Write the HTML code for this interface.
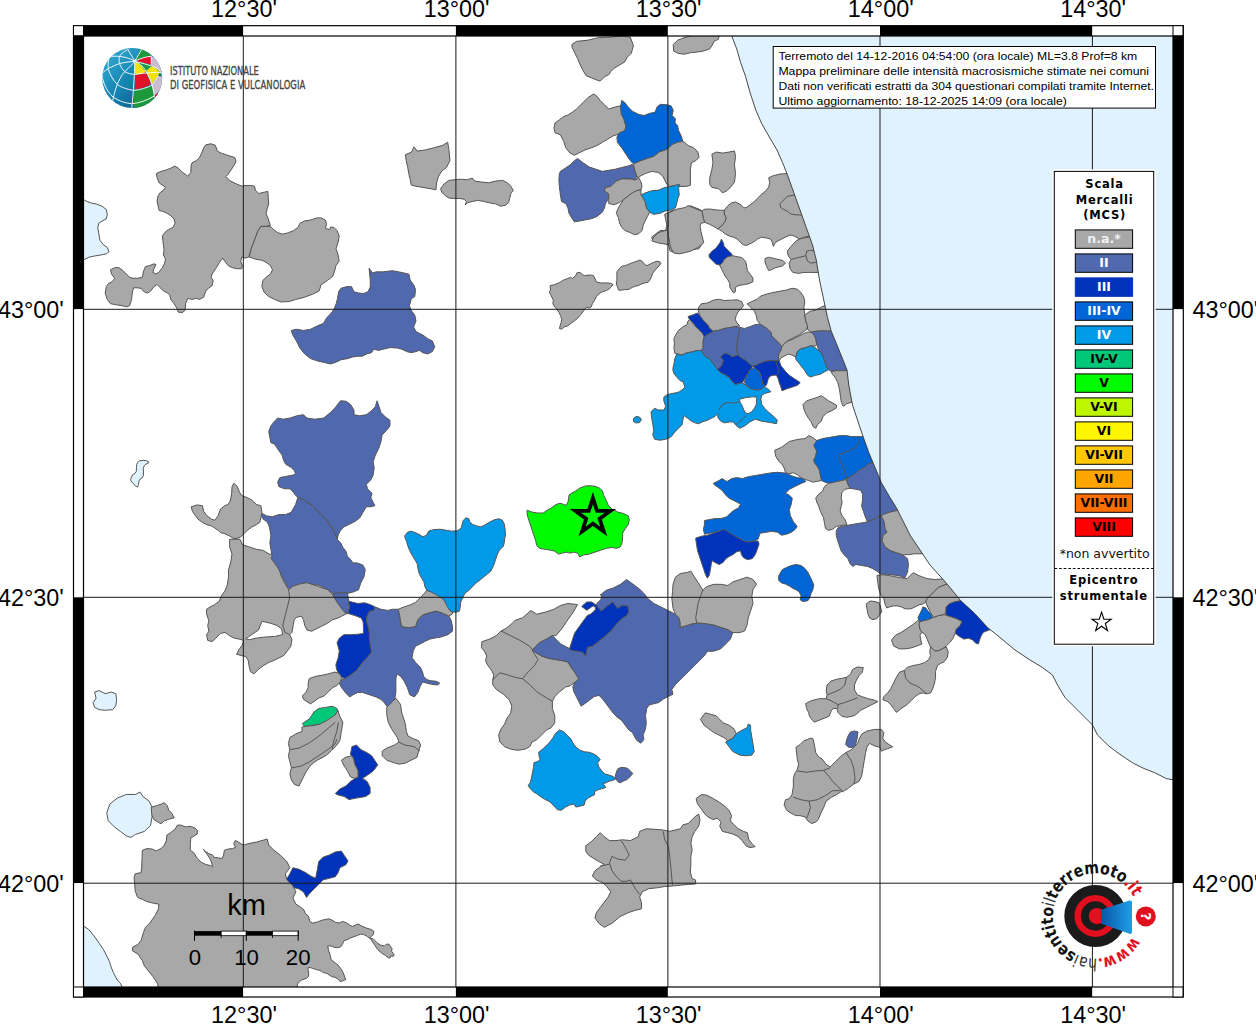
<!DOCTYPE html>
<html><head><meta charset="utf-8"><title>Mappa intensità macrosismiche</title>
<style>
html,body{margin:0;padding:0;background:#fff;}
svg{display:block;}
.pg{stroke:#555;stroke-width:1;vector-effect:non-scaling-stroke;stroke-linejoin:round;}
.bl{fill:none;stroke:#555;stroke-width:1;vector-effect:non-scaling-stroke;stroke-linejoin:round;}
.gr{stroke:#1a1a1a;stroke-width:1;}
.lab{font-family:"Liberation Sans",Arial,sans-serif;font-size:24px;fill:#000;}
.info{font-family:"Liberation Sans",Arial,sans-serif;font-size:11.7px;fill:#000;}
.lg{font-family:"DejaVu Sans",sans-serif;font-weight:bold;font-size:11.5px;}
</style></head>
<body>
<svg width="1256" height="1024" viewBox="0 0 1256 1024">
<rect width="1256" height="1024" fill="#fff"/>
<defs><clipPath id="mapclip"><rect x="83.5" y="36" width="1089.5" height="951"/></clipPath></defs>
<g clip-path="url(#mapclip)">
<g><g transform="translate(84.0 130.0) scale(0.211784)">
<polygon points="575,70 600,65 620,72 630,100 650,110 680,120 712,130 718,150 700,180 680,210 670,220 690,240 720,255 745,265 760,262 785,262 805,265 810,285 825,300 845,295 868,290 870,320 872,350 865,370 860,395 870,420 880,450 860,455 835,455 820,480 805,520 790,560 778,600 760,605 745,600 740,620 748,640 745,655 720,655 700,650 680,640 665,620 655,605 640,625 625,650 605,680 600,695 610,710 605,735 590,745 575,760 565,790 545,800 530,795 510,800 490,795 480,820 478,850 465,862 445,860 438,840 425,820 410,800 405,780 395,770 375,760 360,745 345,730 330,740 315,760 300,770 285,765 270,748 250,745 235,745 228,765 225,800 215,830 200,835 180,830 150,825 125,820 110,800 100,770 105,740 115,725 135,715 145,700 130,680 125,660 145,650 165,650 185,665 200,680 215,695 230,700 255,700 275,695 280,670 290,645 310,640 330,632 340,635 330,655 325,672 340,680 355,670 370,650 380,630 385,610 375,590 378,565 372,520 370,500 385,480 400,470 420,460 430,440 425,420 410,405 395,395 375,385 355,380 350,360 345,335 350,310 360,295 375,285 385,270 370,260 355,250 345,225 342,205 365,195 385,190 410,180 430,170 445,180 465,200 480,210 490,218 505,200 505,170 510,155 530,145 545,130 555,110 565,85" fill="#a8a8a8" class="pg"/>
<polygon points="835,455 860,455 880,455 895,470 915,485 940,492 965,485 990,475 1010,460 1020,440 1040,430 1070,425 1100,415 1120,415 1140,425 1145,445 1140,465 1160,470 1165,458 1180,460 1195,475 1205,500 1200,530 1190,560 1200,590 1205,620 1190,640 1185,660 1175,690 1150,710 1120,730 1110,760 1080,775 1040,790 1000,800 970,810 930,812 900,800 870,785 850,765 840,740 845,710 860,695 880,680 890,660 880,640 860,625 840,615 810,610 780,600 790,560 805,520 820,480" fill="#a8a8a8" class="pg"/>
<polygon points="-10,330 0,330 15,338 35,345 60,350 85,360 105,375 110,400 105,420 85,430 70,440 65,460 70,490 75,520 90,540 110,555 118,575 105,585 80,590 50,595 25,600 5,610 -10,615" fill="#e0f2fe" class="pg"/>
</g></g>
<g><g transform="translate(280.0 130.0) scale(0.234445)">
<polygon points="380,590 395,610 410,605 440,605 480,600 520,608 550,615 555,640 570,660 578,680 575,710 560,720 552,750 560,770 575,790 580,815 570,840 580,860 610,875 630,890 650,900 660,925 650,945 630,955 610,950 595,940 580,945 560,950 540,945 520,935 500,930 470,928 440,935 420,940 400,935 390,950 370,955 350,965 330,965 310,968 290,975 260,980 240,990 215,998 190,992 160,985 130,975 105,955 85,930 70,900 55,875 48,855 70,850 100,855 130,850 160,835 185,825 200,800 215,785 230,765 240,740 245,720 250,690 260,675 285,668 305,668 315,690 335,695 355,698 375,690 385,670 385,640" fill="#5068ae" class="pg"/>
<polygon points="535,105 560,95 572,72 585,90 620,85 660,75 695,65 715,52 720,80 725,130 710,160 690,175 675,200 668,225 665,255 640,250 610,245 580,240 560,235 555,210 550,190 545,160 538,130" fill="#a8a8a8" class="pg"/>
<polygon points="685,250 700,230 720,215 745,212 770,210 800,212 820,205 830,218 860,222 890,225 920,218 950,215 970,225 985,240 995,258 985,270 980,290 975,310 960,322 940,325 920,315 900,312 870,305 845,300 820,305 800,310 790,320 795,305 785,295 765,292 740,292 720,290 705,280 690,265" fill="#a8a8a8" class="pg"/>
</g></g>
<g><g transform="translate(540.0 36.0) scale(0.214878)">
<polygon points="148,40 170,25 220,20 270,8 330,5 380,0 420,5 435,45 425,80 405,100 395,120 370,135 345,150 330,165 320,180 300,190 280,210 265,205 240,195 215,185 200,160 185,130 175,105 160,75 150,55" fill="#a8a8a8" class="pg"/>
<polygon points="620,40 640,20 670,8 720,-5 780,-5 835,-5 830,15 810,25 800,45 790,60 760,70 730,75 700,78 670,85 640,80 622,70" fill="#a8a8a8" class="pg"/>
<polygon points="65,430 70,405 90,390 110,375 130,368 150,355 170,340 200,310 225,285 250,270 265,280 280,300 300,320 320,340 350,330 375,325 385,360 390,385 400,420 395,440 370,455 340,465 315,480 290,495 265,510 240,520 210,530 180,545 160,555 140,545 120,520 110,490 95,460 70,450" fill="#a8a8a8" class="pg"/>
<polygon points="375,330 380,300 395,310 410,330 430,350 460,365 485,370 510,360 535,355 545,330 560,318 590,320 610,325 620,345 615,370 630,385 628,405 640,415 645,440 655,460 665,490 640,495 615,505 600,520 585,530 555,540 530,560 500,570 470,580 435,595 420,580 400,550 380,520 360,495 358,470 370,450 395,440 400,420 390,385 378,365" fill="#0066d6" class="pg"/>
<polygon points="90,640 95,630 110,620 140,600 160,580 175,570 200,590 230,610 260,620 290,630 320,625 350,620 380,612 410,605 430,598 440,620 450,650 445,670 420,665 380,665 355,675 340,690 330,700 305,705 300,720 320,735 320,755 305,780 300,800 290,820 265,840 240,850 215,855 190,860 160,865 150,850 135,825 130,800 120,780 100,770 95,740 90,700 88,670" fill="#5068ae" class="pg"/>
<polygon points="435,595 470,580 500,570 530,560 555,540 585,530 600,520 615,505 640,495 665,490 690,510 715,520 735,540 740,565 725,580 705,590 700,620 700,660 700,695 680,700 650,700 630,695 605,700 590,690 580,670 570,650 550,635 520,630 490,640 470,650 455,660 450,650 440,620" fill="#a8a8a8" class="pg"/>
<polygon points="300,720 305,705 330,700 340,690 355,675 380,665 420,665 445,670 460,660 470,680 475,700 470,715 450,720 430,730 410,745 390,760 370,775 345,785 320,780 320,755 320,735" fill="#a8a8a8" class="pg"/>
<polygon points="470,740 490,730 520,720 550,718 580,705 610,700 630,695 650,690 645,710 648,740 640,760 635,785 630,800 610,810 580,815 560,825 530,830 510,820 495,800 490,775 480,755" fill="#009ae8" class="pg"/>
<polygon points="360,810 370,790 390,760 410,745 430,730 450,720 470,715 470,740 480,755 490,775 495,800 510,820 500,840 490,860 480,880 475,905 460,920 440,925 420,915 395,905 380,890 370,870 365,845 355,825" fill="#a8a8a8" class="pg"/>
<polygon points="580,830 620,810 660,810 700,790 750,810 755,840 740,870 735,900 745,940 755,965 740,990 700,995 660,1000 630,1010 605,1000 598,970 590,945 570,935 550,945 525,950 520,935 540,920 560,905 585,905 590,880 585,855" fill="#a8a8a8" class="pg"/>
<polygon points="800,550 820,540 850,545 880,540 905,535 910,560 905,600 910,640 905,680 890,700 870,720 850,730 830,710 800,705 790,690 790,660 800,620 805,590" fill="#a8a8a8" class="pg"/>
</g></g>
<g><g transform="translate(650.0 150.0) scale(0.185498)">
<polygon points="640,150 660,140 700,130 757.345,125 772.345,122 792.345,200 812.345,260 832.345,320 847.345,370 867.345,420 882.345,460 830,470 805,480 780,465 755,458 730,470 710,480 690,490 675,500 665,520 660,500 650,480 630,475 600,470 580,480 560,495 540,505 520,515 500,510 485,495 470,480 450,470 430,465 410,455 390,440 375,430 365,425 390,405 405,385 410,365 400,345 400,325 420,300 440,285 460,280 480,290 495,300 505,312 520,310 540,295 560,280 580,260 600,240 625,220 640,200 645,175" fill="#a8a8a8" class="pg"/>
<polygon points="700,290 720,270 740,250 792.345,240 812.345,260 832.345,320 842.345,350 790,350 760,345 740,330 720,320 705,310" fill="#a8a8a8" class="pg"/>
<polygon points="280,330 290,320 320,318 350,322 380,325 400,325 400,345 410,365 405,385 390,405 365,425 340,410 320,400 295,390 288,370" fill="#a8a8a8" class="pg"/>
<polygon points="100,340 140,320 190,310 205,300 230,310 280,330 288,370 295,390 275,395 270,410 275,440 285,480 290,500 260,525 220,545 160,560 130,555 115,535 105,500 100,470 95,430 100,400 98,370" fill="#a8a8a8" class="pg"/>
<polygon points="10,490 20,470 40,450 60,440 80,435 95,430 100,470 105,500 95,510 70,505 40,500" fill="#a8a8a8" class="pg"/>
<polygon points="385,480 395,500 400,520 420,540 440,560 445,570 420,575 400,590 390,610 375,620 355,615 340,600 320,580 318,565 335,545 355,530 370,510 380,495" fill="#0032bb" class="pg"/>
<polygon points="445,570 470,575 495,580 515,600 520,620 525,650 540,670 555,690 555,710 535,720 510,725 480,730 460,740 460,765 450,770 440,755 430,740 430,720 420,700 405,680 395,660 385,640 375,620 390,610 400,590 420,575" fill="#a8a8a8" class="pg"/>
<polygon points="620,585 640,578 670,585 700,592 715,595 730,610 715,625 695,630 675,635 655,645 640,650 630,630 620,605" fill="#a8a8a8" class="pg"/>
<polygon points="740,545 760,520 790,488 815,477 872.345,467 882.345,462 897.345,500 912.345,530 922.345,560 927.345,600 927.345,640 917.345,660 860,660 830,660 800,665 770,660 755,640 750,610 760,590 745,570" fill="#a8a8a8" class="pg"/>
<polyline points="760,590 800,580 840,570" class="bl"/>
<polyline points="840,570 845,545 865,540 885,545" class="bl"/>
<polyline points="840,570 850,600 870,610 895,605" class="bl"/>
</g></g>
<g><g transform="translate(640.0 280.0) scale(0.183120)">
<polygon points="320,150 335,130 370,125 400,110 430,105 460,112 500,110 530,108 555,118 565,140 550,160 535,175 525,195 520,215 530,235 545,250 520,255 490,260 460,265 430,275 400,280 380,265 370,245 345,220 330,200 320,175" fill="#a8a8a8" class="pg"/>
<polygon points="262,200 290,190 315,180 330,200 345,220 370,245 380,265 400,280 385,290 365,300 350,310 340,290 320,270 300,250 285,230 270,215" fill="#0032bb" class="pg"/>
<polygon points="185,320 195,300 210,275 235,255 255,245 262,225 270,215 285,230 300,250 320,270 340,290 350,310 345,335 345,370 335,385 310,385 290,392 270,395 250,400 230,410 210,405 190,400 185,370 188,345" fill="#a8a8a8" class="pg"/>
<polygon points="350,310 365,300 385,290 400,280 430,275 460,265 490,260 520,255 545,258 540,290 535,320 530,350 530,380 535,410 505,420 480,410 460,420 455,440 450,460 435,480 420,490 410,470 395,450 380,430 360,420 345,405 335,385 345,370 345,335" fill="#5068ae" class="pg"/>
<polygon points="545,258 570,265 600,255 625,245 655,240 680,255 700,270 715,285 720,305 740,325 760,345 775,365 770,385 760,400 755,420 760,440 740,440 710,440 680,445 655,455 635,465 615,470 600,460 580,440 560,430 535,410 530,380 530,350 535,320 540,290" fill="#5068ae" class="pg"/>
<polygon points="180,480 185,460 190,430 200,405 230,410 250,400 270,395 290,392 310,385 335,385 345,405 360,420 380,430 395,450 410,470 425,490 440,505 460,515 485,530 505,555 520,570 540,565 560,560 575,575 600,590 620,598 640,600 655,598 670,590 680,580 690,590 705,600 715,610 700,615 680,620 665,630 660,650 665,680 680,700 700,720 730,745 750,765 745,785 720,780 690,775 660,770 630,760 600,775 575,795 545,810 525,795 510,775 490,775 460,780 440,770 425,750 425,730 410,745 390,755 370,765 340,775 320,785 300,780 280,770 260,755 240,740 235,760 230,790 210,810 190,830 175,850 165,860 140,870 110,875 80,870 70,845 75,820 70,790 65,760 60,720 80,700 100,710 130,710 140,690 130,660 130,640 150,625 175,620 200,615 215,610 230,600 245,585 240,570 235,555 220,550 200,530 185,510 180,495" fill="#009ae8" class="pg"/>
<polygon points="545,650 580,642 615,638 638,640 635,680 625,700 610,720 590,730 575,725 565,705 555,680 545,665" fill="#ffffff" class="pg"/>
<polyline points="430,710 450,680 480,668 500,672 520,670 545,665" class="bl"/>
<polyline points="525,790 560,760 580,740" class="bl"/>
<polygon points="440,420 455,405 470,400 490,410 505,420 535,410 560,430 580,440 600,460 615,470 605,490 590,510 575,535 560,560 540,565 520,570 505,555 485,530 460,515 440,505 425,490 420,490 435,480 450,460 455,440" fill="#0032bb" class="pg"/>
<polygon points="615,470 635,465 655,455 680,445 710,440 740,440 760,440 770,470 780,480 795,500 815,520 845,540 875,560 860,575 830,585 800,595 775,605 770,585 760,560 755,540 745,520 730,520 710,525 700,540 695,560 690,575 680,580 670,565 665,545 660,520 650,500 630,485" fill="#0032bb" class="pg"/>
<polyline points="740,440 750,470 760,500 745,520" class="bl"/>
<polygon points="600,490 615,480 630,485 650,500 660,520 665,545 670,565 680,580 670,590 655,598 640,600 620,598 600,590 580,575 570,560 575,540 590,510" fill="#0066d6" class="pg"/>
<polygon points="585,130 610,118 640,105 655,90 680,80 720,70 760,62 800,55 830,45 860,50 880,70 895,95 900,120 895,150 900,190 905,225 915,250 910,270 890,285 870,300 840,315 810,330 790,345 775,365 760,345 740,325 720,305 715,285 700,270 680,255 655,240 640,220 635,195 625,170 605,150" fill="#a8a8a8" class="pg"/>
<polygon points="900,190 930,170 960,165 985,150 1032.77,130 1042.77,160 1052.77,200 1062.77,240 1072.77,278 1052.77,280 990,278 960,280 935,285 915,270 915,250 905,225" fill="#a8a8a8" class="pg"/>
<polygon points="760,400 770,385 775,365 790,345 805,335 830,325 860,310 890,295 910,285 935,285 950,300 960,320 965,350 960,360 930,360 905,370 880,375 860,390 850,420 830,410 810,405 790,415 770,425 760,440 755,420" fill="#a8a8a8" class="pg"/>
<polygon points="935,285 960,280 990,278 1052.77,280 1072.77,278 1092.77,340 1112.77,390 1132.77,440 1147.77,480 1162.77,495 1100,495 1070,495 1045,500 1030,490 1015,470 1005,440 995,410 975,380 965,350 960,320 950,300" fill="#5068ae" class="pg"/>
<polygon points="850,420 860,390 880,375 905,370 930,360 950,365 970,380 990,400 1000,420 1010,450 1020,480 1030,490 1010,500 985,515 960,520 930,530 915,520 900,495 880,470 865,450 852,435" fill="#009ae8" class="pg"/>
<polygon points="1045,500 1070,495 1100,495 1162.77,495 1167.77,530 1172.77,580 1177.77,630 1182.77,660 1130,675 1110,690 1100,670 1095,640 1090,600 1080,560 1065,530 1050,515" fill="#a8a8a8" class="pg"/>
<polygon points="890,680 910,660 940,650 970,640 990,632 1010,645 1030,660 1050,670 1075,685 1070,700 1045,715 1020,725 1000,745 990,770 970,790 960,810 945,800 935,775 920,755 905,730 895,705" fill="#a8a8a8" class="pg"/>
</g></g>
<g><g transform="translate(540.0 240.0) scale(0.111465)">
<polygon points="90,410 130,400 170,385 210,360 250,345 275,335 290,345 320,320 330,295 360,290 380,310 400,320 430,315 460,315 480,320 495,350 505,375 540,385 570,385 610,385 640,390 655,400 640,420 620,440 590,455 560,465 540,475 520,490 505,510 490,540 470,570 460,600 440,610 415,605 395,630 370,665 340,700 310,725 280,745 250,770 215,780 195,800 175,795 180,770 190,740 195,710 185,680 170,650 150,620 130,600 115,570 120,540 100,500 85,470 95,440" fill="#a8a8a8" class="pg"/>
<polygon points="690,285 710,260 735,235 760,230 780,225 810,210 840,200 870,190 895,180 915,190 940,220 960,230 990,215 1020,200 1050,190 1075,195 1085,210 1060,240 1030,275 1010,300 1000,330 985,360 970,380 940,385 910,395 880,410 855,415 830,425 810,435 790,445 760,445 730,450 705,450 695,420 685,395 690,360 690,320" fill="#a8a8a8" class="pg"/>
</g></g>
<g><g transform="translate(180.0 390.0) scale(0.224537)">
<polygon points="405,160 420,140 435,125 460,130 490,125 520,115 550,110 565,125 600,130 640,125 670,100 690,80 715,48 740,50 760,65 775,90 775,110 800,115 830,110 850,95 870,75 878,48 885,70 895,100 915,120 935,135 935,160 920,180 900,200 895,230 885,260 870,290 860,320 865,345 860,380 850,400 830,420 835,440 855,460 850,480 860,500 868,515 850,520 830,520 815,545 800,570 780,585 750,600 730,610 715,625 705,645 700,665 690,640 675,610 660,590 645,570 625,550 605,530 590,515 565,500 545,485 525,478 515,470 505,455 490,440 465,440 440,430 435,410 445,390 470,385 500,380 515,375 510,360 495,345 470,330 460,310 455,290 440,270 430,255 420,240 405,235 400,210 395,185" fill="#5068ae" class="pg"/>
<polygon points="365,550 385,560 410,565 440,555 470,555 495,545 515,510 525,478 545,485 565,500 590,515 605,530 625,550 645,570 660,590 675,610 690,640 700,665 715,680 725,700 740,720 745,740 760,755 770,770 790,770 815,780 825,800 820,830 805,860 795,890 770,900 750,905 740,910 720,905 700,915 680,905 660,890 640,880 620,870 590,865 560,862 530,870 510,890 495,900 485,885 470,860 460,840 450,820 440,800 420,780 400,770 395,755 410,740 405,710 400,680 405,650 400,620 395,600 385,585 370,575 362,560" fill="#5068ae" class="pg"/>
<polygon points="50,520 75,512 100,515 105,540 120,560 140,575 155,580 170,560 180,530 200,515 215,510 225,490 230,460 232,430 240,415 255,430 265,455 275,470 300,480 320,490 340,510 360,515 365,545 362,560 355,590 340,600 320,610 300,625 285,640 270,655 255,660 240,662 220,650 200,640 180,635 170,625 155,615 140,605 120,600 100,590 80,575 65,555 55,540" fill="#a8a8a8" class="pg"/>
</g></g>
<g><g transform="translate(180.0 540.0) scale(0.230894)">
<polygon points="215,-3 260,-3 270,20 300,30 330,40 360,45 385,60 400,65 395,80 410,100 430,130 440,160 455,190 470,215 490,200 520,190 550,185 580,195 610,205 640,215 660,235 670,250 690,275 710,300 720,320 700,330 680,340 660,345 640,360 610,375 590,385 570,395 550,390 540,370 535,345 525,330 505,335 495,345 490,370 485,400 475,410 485,430 480,460 465,480 450,500 430,510 410,520 385,530 360,545 340,560 320,580 305,570 300,550 295,520 285,505 265,500 245,495 255,475 270,455 275,435 260,430 235,425 215,415 195,400 175,405 155,425 140,440 120,435 115,410 125,395 120,370 125,350 115,320 115,300 130,290 150,280 170,265 180,240 195,220 205,195 210,160 210,130 220,95 225,60 215,30" fill="#a8a8a8" class="pg"/>
<polygon points="285,428 310,410 340,390 355,352 390,360 420,370 440,385 445,410 410,418 370,420 330,425 300,432" fill="#ffffff" class="pg"/>
<polyline points="470,215 475,250 465,290 455,330 445,370 455,400 475,410" class="bl"/>
<polygon points="660,235 680,230 700,228 725,228 730,260 735,290 725,320 710,310 695,290 680,270 670,250" fill="#5068ae" class="pg"/>
<polygon points="730,265 770,275 800,272 825,280 845,290 840,305 820,310 810,330 808,350 815,375 820,400 820,430 825,460 830,485 815,505 795,525 780,545 765,565 745,580 720,598 705,598 690,585 678,560 675,540 685,510 690,480 680,445 690,425 710,410 740,410 770,408 795,405 795,385 793,355 785,338 760,328 740,322 728,318 735,290" fill="#0032bb" class="pg"/>
<polygon points="845,290 870,300 900,305 920,300 945,300 950,320 955,350 960,375 990,380 1020,375 1030,345 1050,325 1080,315 1110,308 1140,318 1165,330 1175,350 1180,375 1180,395 1160,410 1130,420 1100,425 1080,430 1060,440 1040,450 1020,460 1010,480 1005,510 1020,530 1040,550 1050,570 1055,590 1070,605 1090,610 1110,612 1125,620 1115,628 1090,625 1070,620 1050,615 1040,635 1030,660 1015,680 995,670 985,640 970,610 955,590 940,580 935,600 935,630 935,660 930,690 920,710 900,725 885,705 870,690 850,680 820,670 790,660 770,660 750,670 735,680 720,665 700,640 690,620 700,605 720,598 745,580 765,565 780,545 795,525 815,505 830,485 825,460 820,430 820,400 815,375 808,350 810,330 820,310 840,305" fill="#5068ae" class="pg"/>
<polygon points="945,300 970,290 1000,280 1020,270 1040,250 1060,230 1075,210 1100,225 1130,240 1150,255 1170,275 1180,300 1180,320 1165,330 1140,318 1110,308 1080,315 1050,325 1030,345 1020,375 990,380 960,375 955,350 950,320" fill="#a8a8a8" class="pg"/>
<polygon points="560,600 590,590 620,585 650,578 670,572 690,578 700,595 695,615 680,630 660,640 640,660 625,675 600,685 580,700 565,710 550,700 535,690 530,675 545,660 555,640 555,620" fill="#a8a8a8" class="pg"/>
<polygon points="530,795 545,785 560,775 570,760 580,745 600,730 630,725 660,720 680,730 685,745 670,760 660,780 640,795 610,800 590,800 560,805 540,808" fill="#00c878" class="pg"/>
</g></g>
<g><g transform="translate(400.0 470.0) scale(0.191084)">
<polygon points="25,345 40,325 60,320 85,330 105,340 120,350 140,340 150,320 175,312 210,310 240,315 270,320 300,318 320,305 325,285 330,265 345,250 360,255 365,270 380,285 400,292 420,298 440,290 465,275 490,262 515,255 535,262 545,280 550,310 552,340 548,360 545,385 540,400 530,410 520,420 510,440 500,470 490,500 475,530 450,550 420,575 400,590 380,610 360,630 340,645 330,665 318,690 315,720 310,740 285,745 265,740 250,720 240,700 230,680 210,665 185,650 165,640 140,630 130,610 125,585 110,560 100,540 95,520 90,490 75,465 60,440 50,420 40,395 35,375 28,360" fill="#009ae8" class="pg"/>
<polygon points="665,210 690,220 720,225 750,225 770,210 790,200 810,185 830,175 845,175 855,180 870,185 880,165 885,130 900,120 920,110 940,95 965,85 990,82 1020,85 1045,95 1060,110 1065,130 1080,160 1090,185 1110,205 1140,220 1170,228 1195,240 1200,260 1195,285 1180,305 1165,330 1165,360 1160,390 1150,405 1130,410 1110,405 1080,410 1050,420 1020,430 990,440 960,445 940,455 930,435 910,430 890,435 870,430 850,435 830,440 810,425 790,420 760,415 730,410 715,395 710,370 700,340 690,310 680,280 670,250 665,230" fill="#00fa00" class="pg"/>
</g></g>
<g><g transform="translate(470.0 570.0) scale(0.238852)">
<polygon points="50,300 80,290 110,275 130,255 150,245 175,225 190,210 220,200 255,170 280,185 320,175 350,165 380,148 410,140 450,145 430,180 405,215 385,245 360,275 345,275 320,290 290,305 275,320 260,335 275,345 300,360 330,370 360,375 390,380 410,385 425,410 440,430 455,455 440,470 420,485 400,490 375,510 355,530 345,550 345,580 355,610 355,640 340,660 320,670 300,690 280,710 260,720 250,740 230,750 200,755 170,750 145,740 125,720 120,690 130,665 145,645 155,620 170,600 175,570 165,545 140,520 110,500 95,480 95,460 100,440 90,420 75,400 65,380 70,360 60,340 48,325" fill="#a8a8a8" class="pg"/>
<polyline points="130,255 170,275 210,295 250,320 262,335" class="bl"/>
<polyline points="262,340 285,375 270,400 245,425 220,455" class="bl"/>
<polyline points="95,460 125,430 160,440 190,450 220,455 250,480 280,510 320,535 345,550" class="bl"/>
<polygon points="545,105 570,85 600,75 630,60 655,40 670,50 690,65 710,80 730,100 745,120 770,140 800,155 830,170 860,185 875,200 880,220 880,240 900,235 930,225 960,222 990,225 1020,230 1050,240 1080,250 1100,262 1090,290 1070,310 1050,330 1020,340 995,340 980,360 960,380 940,400 920,420 900,440 880,460 860,480 845,500 850,520 830,530 810,540 790,555 770,560 750,565 740,580 735,610 738,640 735,665 725,690 728,710 715,725 700,715 690,700 680,680 665,670 650,650 635,630 615,615 600,600 585,580 570,560 555,540 540,525 520,530 500,545 480,560 465,570 455,550 445,530 435,510 430,490 440,470 455,455 440,430 425,410 410,385 390,380 360,375 330,370 300,360 275,345 260,335 275,320 290,305 320,290 345,275 360,290 380,310 400,320 418,330 440,335 470,340 483.6,360.5 491.5,323.2 512.9,318.2 531.3,304.8 563.5,278 590.3,254.1 616.7,221.9 635.5,203.5 656.9,190.1 664.8,171.2 659.4,149.9 632.6,149.9 619.6,160.8 611.7,152.8 598.3,134 569,155.3 558.1,165.8 547.6,171.2 528.8,147.4 531.7,139.4 539.7,131.5 547.6,123.5 552.6,104.7" fill="#5068ae" class="pg"/>
<polygon points="850,60 860,30 880,15 910,10 925,5 940,30 960,60 975,85 990,70 1020,60 1050,60 1080,65 1100,50 1130,40 1160,30 1185,40 1200,60 1185,80 1180,110 1185,140 1175,170 1165,200 1160,230 1150,255 1130,262 1100,262 1080,250 1050,240 1020,230 990,225 960,222 930,225 900,235 880,240 880,220 875,200 860,185 850,160 845,120 848,90" fill="#a8a8a8" class="pg"/>
<polyline points="975,85 965,110 955,140 950,170 945,200 950,225" class="bl"/>
<polygon points="965,625 985,598 1010,605 1030,610 1045,625 1060,640 1085,650 1105,665 1115,685 1100,705 1080,715 1060,700 1040,690 1020,680 1000,665 980,650" fill="#a8a8a8" class="pg"/>
<polygon points="1080,715 1100,705 1115,685 1140,670 1160,660 1165,645 1175,650 1175,670 1180,700 1185,730 1190,760 1180,775 1155,778 1130,775 1100,760 1085,740 1070,720" fill="#009ae8" class="pg"/>
</g></g>
<g><g transform="translate(680.0 420.0) scale(0.195282)">
<polygon points="485,155 520,140 560,110 600,100 640,95 660,80 680,90 700,105 705,130 700,160 695,185 685,205 690,220 705,240 715,260 720,290 725,310 700,315 680,318 660,310 640,305 620,295 600,280 580,270 560,275 540,270 535,250 525,230 505,210 490,185" fill="#a8a8a8" class="pg"/>
<polygon points="685,130 700,105 730,95 760,90 790,85 820,80 850,80 880,85 910,85 965.725,85 980.725,130 995.725,175 1010.72,210 965,225 950,240 920,255 890,280 860,300 830,310 800,320 770,325 745,320 725,310 720,290 715,260 705,240 690,220 685,205 695,185 700,160" fill="#0066d6" class="pg"/>
<polyline points="910,90 920,110 900,140 860,160 830,170 815,180 820,210 840,250 855,300" class="bl"/>
<polygon points="855,300 890,280 920,255 950,240 965,225 1010.72,210 1030.72,250 1050.72,290 1070.72,330 1090.72,370 1110.72,410 1125.72,440 1130.72,460 1080,470 1050,480 1030,490 1000,505 975,515 960,520 950,500 940,470 930,440 935,410 935,380 925,360 900,355 870,350 860,330" fill="#5068ae" class="pg"/>
<polygon points="695,400 710,380 730,365 740,340 760,325 790,318 820,312 850,305 860,330 870,350 845,355 830,370 825,395 830,420 825,445 820,465 830,490 845,510 855,535 830,540 800,545 780,560 760,565 745,555 740,530 735,500 720,470 710,440 700,420" fill="#a8a8a8" class="pg"/>
<polygon points="800,570 810,550 830,545 855,540 880,535 910,530 945,525 975,515 1000,505 1030,490 1045,520 1050,555 1060,575 1040,590 1035,620 1050,650 1080,670 1110,680 1140,690 1165,710 1170,740 1165,780 1150,810 1130,800 1100,795 1060,790 1030,790 1010,775 985,760 960,750 930,745 900,740 885,750 870,735 860,710 840,690 825,670 815,640 805,610 800,590" fill="#5068ae" class="pg"/>
<polygon points="1030,490 1050,480 1080,470 1130.72,460 1150.72,490 1170.72,530 1190.72,570 1215.72,610 1240.72,640 1265.72,665 1265.72,685 1200,685 1170,690 1140,690 1110,680 1080,670 1050,650 1035,620 1040,590 1060,575 1050,555 1045,520" fill="#a8a8a8" class="pg"/>
<polygon points="170,325 200,310 215,300 240,315 265,300 290,295 320,300 350,290 380,285 410,280 440,275 470,270 500,268 540,272 570,285 600,295 630,300 645,315 620,325 590,340 560,355 540,375 560,385 575,400 570,430 560,460 565,490 580,520 600,545 590,560 570,575 545,585 520,590 500,575 470,570 440,575 410,580 400,610 380,620 355,625 330,620 300,605 270,590 240,570 210,565 180,575 150,580 125,585 120,560 125,535 125,515 150,510 180,505 210,505 240,495 260,475 280,460 300,450 310,430 290,420 270,410 250,400 235,385 215,360 195,345 180,335" fill="#0066d6" class="pg"/>
<polygon points="80,605 110,595 140,590 170,580 200,570 225,560 250,575 275,590 300,605 330,620 355,625 380,620 400,620 405,635 395,665 385,690 370,710 345,715 325,705 315,690 310,670 290,675 270,690 250,700 235,710 220,730 200,740 180,730 165,720 160,740 155,770 150,795 140,810 130,790 120,760 110,730 100,700 90,670 85,640" fill="#0032bb" class="pg"/>
<polygon points="505,800 515,780 525,765 545,755 570,745 595,740 620,745 640,760 655,780 665,800 675,820 685,845 680,870 670,890 665,910 655,925 630,930 615,920 620,900 610,880 595,870 575,860 560,850 540,840 520,835 505,820" fill="#0066d6" class="pg"/>
</g></g>
<g><g transform="translate(790.0 560.0) scale(0.195351)">
<polygon points="445,80 470,75 510,80 560,90 600,95 630,65 660,80 700,95 740,100 800.714,95 820.714,100 810.714,120 760,140 740,160 720,180 700,200 695,215 680,225 660,230 640,240 620,250 590,250 570,240 550,235 530,235 510,240 495,245 485,220 480,195 465,180 455,150 450,120" fill="#a8a8a8" class="pg"/>
<polygon points="700,200 720,180 740,160 760,140 810.714,120 825.714,105 840.714,130 860.714,160 880.714,185 890.714,205 840,215 815,225 800,240 798,265 790,280 760,285 735,295 720,270 705,240 695,215" fill="#a8a8a8" class="pg"/>
<polygon points="655,295 665,275 675,255 680,240 695,245 705,260 720,275 730,295 710,305 690,310 670,315 660,310" fill="#0066d6" class="pg"/>
<polygon points="800,240 815,225 840,215 890.714,205 910.714,225 930.714,240 950.714,255 970.714,275 990.714,290 1010.71,310 1030.71,335 1040.71,350 990,370 980,385 970,410 965,430 950,425 935,410 915,400 890,405 865,390 845,375 850,355 870,335 880,315 860,305 840,295 820,290 798,285 798,265" fill="#0032bb" class="pg"/>
<polygon points="735,295 760,285 790,280 820,290 850,300 880,315 870,335 850,355 845,375 835,400 820,420 800,440 780,455 760,465 740,465 720,445 710,425 700,400 690,380 675,370 665,355 660,330 665,315 690,310 710,305 730,295" fill="#a8a8a8" class="pg"/>
<polygon points="520,410 540,385 570,370 600,350 630,330 655,310 665,315 660,330 665,355 675,370 665,385 670,410 675,430 650,440 620,450 590,455 560,455 530,440" fill="#a8a8a8" class="pg"/>
<polygon points="720,445 740,465 760,465 780,455 800,445 810,470 805,500 790,520 770,530 755,540 745,570 745,600 740,630 730,660 720,680 700,685 680,680 660,685 640,700 620,720 600,740 570,760 545,780 530,760 515,740 500,725 475,715 480,700 500,680 515,660 530,630 545,600 560,575 585,565 600,550 630,540 660,535 690,525 710,510 720,490 715,470" fill="#a8a8a8" class="pg"/>
<polyline points="585,565 592,605 615,630 660,650 700,685" class="bl"/>
<polygon points="390,225 410,210 430,212 455,218 462,235 470,265 455,285 445,300 425,305 410,300 400,280 395,255" fill="#a8a8a8" class="pg"/>
<polygon points="80,735 110,720 150,710 185,710 190,690 185,670 190,640 210,620 240,610 270,605 290,600 310,585 320,560 345,548 375,550 370,575 355,590 340,615 330,640 330,665 345,690 370,700 400,710 425,715 450,725 420,740 390,755 360,770 340,790 320,800 290,805 265,800 245,780 240,760 220,760 210,775 200,800 175,810 150,820 125,830 110,815 100,800 95,780 85,760" fill="#a8a8a8" class="pg"/>
<polyline points="185,710 210,720 245,740 245,760" class="bl"/>
<polyline points="245,740 280,730 320,715 345,705" class="bl"/>
<polyline points="190,690 230,675 260,660 280,640 290,600" class="bl"/>
<polygon points="290,920 300,895 310,880 330,875 348,880 345,905 340,930 335,950 320,960 300,958 285,945" fill="#5068ae" class="pg"/>
</g></g>
<g><g transform="translate(570.0 700.0) scale(0.262743)">
<polygon points="480,375 500,360 520,362 545,375 570,390 590,405 605,420 615,440 610,460 625,475 640,490 660,500 675,505 680,530 695,550 705,558 685,562 670,555 655,535 640,520 620,510 600,505 580,500 570,480 575,465 560,450 545,455 525,445 510,430 500,415 485,395" fill="#a8a8a8" class="pg"/>
<polygon points="60,555 80,540 100,520 115,505 130,520 150,535 175,535 200,532 230,535 260,520 265,500 290,490 320,492 355,495 380,500 400,495 420,490 430,475 450,470 465,455 480,440 490,435 495,455 490,480 475,500 465,520 460,545 465,570 460,595 460,625 458,655 465,680 478,685 478,700 450,702 420,705 390,708 360,710 330,715 300,718 275,730 265,750 272,770 272,795 250,800 220,810 190,825 160,850 130,865 110,850 95,830 100,810 115,790 130,770 145,750 155,730 140,710 125,695 100,685 85,670 95,650 115,635 130,625 110,615 85,600 70,590 60,575" fill="#a8a8a8" class="pg"/>
<polyline points="195,535 210,560 225,590 210,610 180,605 160,595 150,620 160,650 175,670 195,690 215,690 230,685" class="bl"/>
<polyline points="115,632 150,625" class="bl"/>
<polyline points="355,500 360,530 375,560 380,600 385,650 390,705" class="bl"/>
<polyline points="230,685 250,720 265,740" class="bl"/>
<polygon points="860,180 875,170 890,155 905,150 915,145 925,148 930,170 935,200 945,215 960,225 975,245 990,255 1010,235 1030,215 1050,200 1070,190 1080,180 1095,165 1100,150 1110,130 1130,118 1160,112 1185,112 1195,125 1190,145 1200,160 1215,170 1228,178 1210,185 1195,190 1185,195 1180,180 1160,175 1140,165 1130,180 1125,200 1120,230 1115,260 1110,290 1100,310 1080,320 1060,335 1045,345 1030,350 1015,360 995,370 975,385 965,410 955,430 945,455 935,465 920,470 905,460 895,445 875,440 860,440 840,430 825,420 815,400 820,380 835,375 845,360 850,330 850,300 855,280 865,265 870,245 865,225" fill="#a8a8a8" class="pg"/>
<polyline points="865,270 900,275 935,270 965,268 990,258" class="bl"/>
<polyline points="965,268 985,290 1000,310 1020,330 1040,350" class="bl"/>
<polyline points="850,370 880,380 910,385 940,380 970,365 1000,345 1030,345" class="bl"/>
<polyline points="910,385 915,410 905,440 900,450" class="bl"/>
<polyline points="1050,200 1070,230 1080,260 1085,300 1080,320" class="bl"/>
</g></g>
<g><g transform="translate(520.0 715.0) scale(0.103504)">
<polygon points="180,360 230,320 280,270 320,220 340,180 380,145 420,160 460,200 495,235 510,270 540,310 580,340 620,355 670,360 710,375 750,400 775,430 750,460 760,500 790,540 820,570 860,580 900,595 930,615 900,630 860,640 820,660 800,660 830,700 800,710 760,720 720,740 720,770 700,780 660,800 630,830 620,870 580,880 540,890 520,860 480,870 440,890 400,920 360,915 330,880 290,840 240,815 200,790 160,760 125,740 90,700 80,680 100,650 110,610 120,560 130,510 135,460 170,450 195,430 185,400" fill="#009ae8" class="pg"/>
<polygon points="920,590 935,540 950,515 990,505 1040,515 1090,565 1060,600 1030,625 995,640 970,655 945,645 930,620" fill="#5068ae" class="pg"/>
</g></g>
<g><g transform="translate(84.0 680.0) scale(0.302773)">
<polygon points="35,40 50,35 70,45 90,40 105,45 108,65 105,85 95,98 70,100 50,98 35,90 30,75 40,60" fill="#e0f2fe" class="pg"/>
<polygon points="75,440 85,410 110,390 140,378 170,378 185,370 195,385 215,400 225,420 225,450 220,480 200,500 170,510 155,520 140,515 120,500 100,485 80,465" fill="#e0f2fe" class="pg"/>
<polygon points="222,420 240,415 255,410 265,405 275,415 280,430 290,440 298,455 280,460 265,465 255,475 245,470 230,460 224,445" fill="#a8a8a8" class="pg"/>
<polygon points="665,665 680,640 690,620 710,625 730,635 750,648 765,655 770,630 775,600 790,585 810,578 830,568 850,565 860,580 872,598 865,610 845,620 840,635 830,650 810,655 790,660 780,670 770,680 760,690 745,705 735,718 725,700 710,690 690,685 670,680" fill="#0032bb" class="pg"/>
<polygon points="720,155 740,152 760,150 780,145 800,135 815,125 830,115 838,100 845,120 855,140 850,170 845,200 835,215 820,230 805,245 790,255 770,265 750,280 735,300 725,320 715,340 710,350 695,345 685,330 680,310 685,290 680,270 675,250 680,230 675,210 680,190 700,178 720,170" fill="#a8a8a8" class="pg"/>
<polyline points="680,230 710,225 740,210 770,190 800,165 830,140" class="bl"/>
<polyline points="685,290 715,285 745,270 775,250 805,230 830,210 835,195" class="bl"/>
<polyline points="820,230 825,200 835,170 840,140" class="bl"/>
<polygon points="1000,90 1020,70 1030,60 1045,80 1050,110 1060,140 1065,170 1070,185 1090,195 1105,200 1112,215 1105,235 1100,255 1080,265 1060,275 1040,278 1020,272 1000,265 985,250 985,235 1000,225 1025,215 1040,205 1035,190 1025,175 1015,160 1005,140 1000,115" fill="#a8a8a8" class="pg"/>
<polyline points="1040,205 1060,215 1090,220 1110,235" class="bl"/>
<polygon points="885,220 900,215 915,230 935,240 950,250 960,265 970,280 960,295 950,305 935,315 920,325 935,335 945,355 945,375 930,385 900,390 875,395 860,385 840,380 830,375 845,360 865,350 880,335 895,325 905,320 905,300 895,280 890,260 880,245" fill="#0032bb" class="pg"/>
<polygon points="850,265 865,255 885,250 890,260 895,280 905,300 905,320 895,325 880,320 870,300 860,285" fill="#a8a8a8" class="pg"/>
</g></g>
<g><g transform="translate(0.0 0.0) scale(1.000000)">
<polygon points="142.3,850.3 147,848.6 152,849 156.3,850.9 161,848.6 164,845.6 166.3,840.9 166.9,835.1 170.4,832.7 175.1,829.2 177.4,825.1 180.9,825.1 185.6,826.9 190.3,826.3 195,828 197.3,830.4 197.3,833.9 193.8,836.3 190.9,837.4 190.3,843.3 190.3,850.3 193.8,852.7 197.3,858.5 200.9,862 205.5,864.4 210.2,865.5 212.6,866.7 211.4,862 209.1,857.3 206.7,853.8 203.2,849.1 205.5,851.5 209.1,853.8 212.6,855 213.8,857.3 218.4,857.9 222,858.5 223.7,855 224.3,850.3 227.8,849.1 232.5,848.6 235.4,847.4 233.7,843.3 235.4,840.4 238.4,842.1 243,845 249,843.5 256.6,842 264.2,839.9 267.2,839 268.7,845 273.2,849.6 280.8,855.6 286.9,861.7 289.9,867.7 285.3,873.8 286.9,879.8 292.9,885.9 295.9,891.9 292.9,898 295.9,904.1 300.5,907.1 304,910 305.3,913.5 308.4,916.1 309.7,921.4 312.8,923.1 316.3,922.3 318.9,921.4 322.4,920.1 325,919.6 328.5,918.8 332,920.1 335.5,922.3 339,923.1 342.5,921.4 346.1,922.7 349.6,924.9 352.2,926.6 355.7,924.9 358.3,924 361.8,926.2 366.2,928 370.6,929.3 373.6,931 373.6,934.1 371.5,936.3 369.7,938 373.2,938.9 376.7,942.4 380.2,945 384.6,945.9 386.3,944.2 389,944.2 390.7,946.8 392,948.5 391.6,951.2 394.2,955.1 393.3,956.4 390.7,956 389.8,958.2 388.1,957.7 385.5,955.5 382.8,953.8 380.2,952 377.6,949.4 374.1,944.2 370.6,938.9 367.1,936.3 363.6,934.5 360.9,934.1 357.4,935.4 353.9,936.7 350.4,938 346.9,939.8 343.9,940.7 342.5,944.2 340.8,946.8 337.3,947.7 333.8,947.2 331.2,945.9 327.7,945.9 328.5,950.3 330.3,955.5 331.2,959.9 334.7,962.5 338.2,965.2 340.8,968.7 343.4,973.1 345.2,978.3 346.1,979.2 342.5,980.9 339.9,981.4 339,980.1 337.3,978.3 334.7,977.4 332,976.6 330.3,975.7 327.7,973.9 325.9,973.1 323.3,972.6 321.5,971.3 319.8,970.4 316.3,969.6 313.6,968.7 311,967.8 308.4,967.4 308,969.6 308.8,973.1 308.4,976.6 306.6,978.3 304,979.2 301.4,980.1 299.6,981.4 297.9,983.6 297,986.2 297,992 159.5,992 157.3,983.1 153,976.7 148.7,971.3 144.4,965.9 142.3,960.6 138,954.1 132.6,950.9 132.6,947.1 138,944.4 141.2,940.2 143.4,932.6 145.5,927.3 149.8,923 155.2,915.4 158.4,909 158.9,904.2 153,903.1 146.6,901.5 142.3,899.3 138.8,898 137.6,897.2 135.2,891.3 134.6,883.1 134.1,877.3 135.2,873.8 141.1,872.6 141.7,867.9 142,859.7" fill="#a8a8a8" class="pg"/>
<polygon points="80,926.2 83.8,926.2 88.6,929.4 94,935.9 99.3,943.4 103.6,949.8 106.9,956.3 109.5,961.6 111.1,967 113.3,972.4 116,977.7 118.1,981 120.3,983.1 121.9,986.3 122.5,992 80,992" fill="#e0f2fe" class="pg"/>
</g></g>
<g><g transform="translate(120.0 450.0) scale(0.043956)">
<polygon points="400,280 450,245 530,235 600,245 650,265 640,300 590,320 550,360 530,420 535,500 530,590 500,640 450,670 430,720 420,790 400,840 360,830 310,770 260,720 240,670 260,620 290,560 340,530 370,490 375,400 380,330" fill="#e0f2fe" class="pg"/>
</g></g>
<g><g transform="translate(0.0 0.0) scale(1.000000)">
<polygon points="569.6,648.5 574.6,633.2 579.1,626.8 587.4,615.4 590.6,614.1 595,610.3 595.7,607.7 593.1,605.8 586.8,610.3 581.7,606.5 586.8,602 591.8,602 596.3,605.2 600.8,610.9 603.3,609.6 605.9,607.1 612.9,602 616.1,606.5 618,608.4 621.1,605.8 627.5,605.8 628.8,610.9 626.9,615.4 621.8,618.6 617.3,623 611,630.7 604.6,636.4 596.9,642.8 592.5,646 587.4,647.2 585.5,656.1 582.9,652.3 576.6,651.1 571.5,650.4" fill="#0032bb" class="pg"/>
<polygon points="633.5,418.5 636,416.5 639.5,417 641.5,419.5 639.5,422.5 636,423 633.5,421.5" fill="#009ae8" class="pg"/>
</g></g>
<polygon points="731.5,30 732,36.7 736.8,49.1 740.6,62.5 745.4,75.9 750.2,93.1 755.9,110.3 761.7,123.6 769.3,137 777,150 782.5,162.5 787,173.75 793.75,192.5 800,210 806.25,227.5 812.5,245 816.25,260 819.5,280 823.75,300 827.5,317.5 831.25,331.25 840,352.5 847,370 848.75,385 852.5,405 857.5,420 862.5,435 868.75,452.5 875,467.5 881.25,482.5 890,497.5 896.25,507.5 902.5,520 910,535 920,550 930,565 942.5,578.75 950,587.5 960,600 975,613.75 987.5,627.5 1000,637.5 1015,650 1030,660 1042.5,667.5 1052.5,675 1057.5,685 1065,697.5 1077.5,710 1092.5,725 1097.5,735 1108.6,745.8 1115.6,751.25 1125.8,758.3 1133.6,763.4 1143.75,768.4 1154.7,772.7 1166.4,778.6 1180,781 1180,30" fill="#e0f2fe" stroke="#333" stroke-width="0.9"/>


<polygon points="592.90,492.10 598.43,508.90 616.11,508.96 601.84,519.40 607.24,536.24 592.90,525.90 578.56,536.24 583.96,519.40 569.69,508.96 587.37,508.90" fill="#000"/>
<polygon points="592.90,504.20 595.69,512.76 604.69,512.77 597.42,518.07 600.19,526.63 592.90,521.35 585.61,526.63 588.38,518.07 581.11,512.77 590.11,512.76" fill="#00fa00"/>

<line x1="243.3" y1="36" x2="243.3" y2="987" class="gr"/>
<line x1="455.9" y1="36" x2="455.9" y2="987" class="gr"/>
<line x1="667.9" y1="36" x2="667.9" y2="987" class="gr"/>
<line x1="880.0" y1="36" x2="880.0" y2="987" class="gr"/>
<line x1="1092.4" y1="36" x2="1092.4" y2="987" class="gr"/>
<line x1="83.5" y1="309.3" x2="1173" y2="309.3" class="gr"/>
<line x1="83.5" y1="597.3" x2="1173" y2="597.3" class="gr"/>
<line x1="83.5" y1="883.2" x2="1173" y2="883.2" class="gr"/>
</g>
<rect x="83.5" y="25.7" width="159.8" height="10.3" fill="#000"/>
<rect x="83.5" y="987" width="159.8" height="10" fill="#000"/>
<rect x="243.3" y="25.7" width="212.59999999999997" height="10.3" fill="#fff"/>
<rect x="243.3" y="987" width="212.59999999999997" height="10" fill="#fff"/>
<rect x="455.9" y="25.7" width="212.0" height="10.3" fill="#000"/>
<rect x="455.9" y="987" width="212.0" height="10" fill="#000"/>
<rect x="667.9" y="25.7" width="212.10000000000002" height="10.3" fill="#fff"/>
<rect x="667.9" y="987" width="212.10000000000002" height="10" fill="#fff"/>
<rect x="880.0" y="25.7" width="212.4000000000001" height="10.3" fill="#000"/>
<rect x="880.0" y="987" width="212.4000000000001" height="10" fill="#000"/>
<rect x="1092.4" y="25.7" width="80.59999999999991" height="10.3" fill="#fff"/>
<rect x="1092.4" y="987" width="80.59999999999991" height="10" fill="#fff"/>
<rect x="73.5" y="36" width="10.0" height="273.3" fill="#000"/>
<rect x="1173" y="36" width="10.299999999999955" height="273.3" fill="#000"/>
<rect x="73.5" y="309.3" width="10.0" height="287.99999999999994" fill="#fff"/>
<rect x="1173" y="309.3" width="10.299999999999955" height="287.99999999999994" fill="#fff"/>
<rect x="73.5" y="597.3" width="10.0" height="285.9000000000001" fill="#000"/>
<rect x="1173" y="597.3" width="10.299999999999955" height="285.9000000000001" fill="#000"/>
<rect x="73.5" y="883.2" width="10.0" height="103.79999999999995" fill="#fff"/>
<rect x="1173" y="883.2" width="10.299999999999955" height="103.79999999999995" fill="#fff"/>
<rect x="73.5" y="25.7" width="1109.8" height="971.3" fill="none" stroke="#000" stroke-width="1.2"/>
<rect x="83.5" y="36" width="1089.5" height="951" fill="none" stroke="#000" stroke-width="1.2"/>
<rect x="73.5" y="25.7" width="10" height="10" fill="#fff" stroke="#000" stroke-width="1"/>
<rect x="1173" y="25.7" width="10" height="10" fill="#fff" stroke="#000" stroke-width="1"/>
<rect x="73.5" y="987" width="10" height="10" fill="#fff" stroke="#000" stroke-width="1"/>
<rect x="1173" y="987" width="10" height="10" fill="#fff" stroke="#000" stroke-width="1"/>
<text x="244.0" y="16.8" class="lab" text-anchor="middle" textLength="65.8" lengthAdjust="spacingAndGlyphs">12°30'</text>
<text x="244.0" y="1023.3" class="lab" text-anchor="middle" textLength="65.8" lengthAdjust="spacingAndGlyphs">12°30'</text>
<text x="456.59999999999997" y="16.8" class="lab" text-anchor="middle" textLength="65.8" lengthAdjust="spacingAndGlyphs">13°00'</text>
<text x="456.59999999999997" y="1023.3" class="lab" text-anchor="middle" textLength="65.8" lengthAdjust="spacingAndGlyphs">13°00'</text>
<text x="668.6" y="16.8" class="lab" text-anchor="middle" textLength="65.8" lengthAdjust="spacingAndGlyphs">13°30'</text>
<text x="668.6" y="1023.3" class="lab" text-anchor="middle" textLength="65.8" lengthAdjust="spacingAndGlyphs">13°30'</text>
<text x="880.7" y="16.8" class="lab" text-anchor="middle" textLength="65.8" lengthAdjust="spacingAndGlyphs">14°00'</text>
<text x="880.7" y="1023.3" class="lab" text-anchor="middle" textLength="65.8" lengthAdjust="spacingAndGlyphs">14°00'</text>
<text x="1093.1000000000001" y="16.8" class="lab" text-anchor="middle" textLength="65.8" lengthAdjust="spacingAndGlyphs">14°30'</text>
<text x="1093.1000000000001" y="1023.3" class="lab" text-anchor="middle" textLength="65.8" lengthAdjust="spacingAndGlyphs">14°30'</text>
<text x="63.8" y="317.90000000000003" class="lab" text-anchor="end" textLength="65.8" lengthAdjust="spacingAndGlyphs">43°00'</text>
<text x="1192.4" y="317.90000000000003" class="lab" text-anchor="start" textLength="65.8" lengthAdjust="spacingAndGlyphs">43°00'</text>
<text x="63.8" y="605.9" class="lab" text-anchor="end" textLength="65.8" lengthAdjust="spacingAndGlyphs">42°30'</text>
<text x="1192.4" y="605.9" class="lab" text-anchor="start" textLength="65.8" lengthAdjust="spacingAndGlyphs">42°30'</text>
<text x="63.8" y="891.8000000000001" class="lab" text-anchor="end" textLength="65.8" lengthAdjust="spacingAndGlyphs">42°00'</text>
<text x="1192.4" y="891.8000000000001" class="lab" text-anchor="start" textLength="65.8" lengthAdjust="spacingAndGlyphs">42°00'</text>
<!-- info box -->
<rect x="773.2" y="46.5" width="382.3" height="61.6" fill="#fff" stroke="#000" stroke-width="1"/>
<g class="info">
<text x="778.4" y="59.5" textLength="358.8" lengthAdjust="spacingAndGlyphs">Terremoto del 14-12-2016 04:54:00 (ora locale) ML=3.8 Prof=8 km</text>
<text x="778.4" y="74.7" textLength="370.7" lengthAdjust="spacingAndGlyphs">Mappa preliminare delle intensità macrosismiche stimate nei comuni</text>
<text x="778.4" y="89.8" textLength="375.6" lengthAdjust="spacingAndGlyphs">Dati non verificati estratti da 304 questionari compilati tramite Internet.</text>
<text x="778.4" y="104.5" textLength="288.5" lengthAdjust="spacingAndGlyphs">Ultimo aggiornamento: 18-12-2025 14:09 (ora locale)</text>
</g>
<!-- legend -->
<rect x="1052.3" y="169.4" width="103.4" height="476.8" fill="#fff"/>
<rect x="1054.3" y="171.4" width="99.4" height="472.8" fill="#fff" stroke="#000" stroke-width="1"/>
<g class="lg" text-anchor="middle" fill="#000" style="letter-spacing:0.8px">
<text x="1104.6" y="187.6">Scala</text>
<text x="1104.6" y="203.6">Mercalli</text>
<text x="1104.6" y="219.3">(MCS)</text>
</g>
<g stroke="#000" stroke-width="1">
<rect x="1075.3" y="229.9" width="57.3" height="18.4" fill="#a8a8a8"/>
<rect x="1075.3" y="253.9" width="57.3" height="18.4" fill="#5068ae"/>
<rect x="1075.3" y="277.9" width="57.3" height="18.4" fill="#0032bb" stroke="#0032bb"/>
<rect x="1075.3" y="301.9" width="57.3" height="18.4" fill="#0066d6"/>
<rect x="1075.3" y="325.9" width="57.3" height="18.4" fill="#009ae8"/>
<rect x="1075.3" y="349.9" width="57.3" height="18.4" fill="#00c878"/>
<rect x="1075.3" y="373.9" width="57.3" height="18.4" fill="#00fa00"/>
<rect x="1075.3" y="397.9" width="57.3" height="18.4" fill="#bef500"/>
<rect x="1075.3" y="421.9" width="57.3" height="18.4" fill="#fff500"/>
<rect x="1075.3" y="445.9" width="57.3" height="18.4" fill="#ffc800"/>
<rect x="1075.3" y="469.9" width="57.3" height="18.4" fill="#ffa500"/>
<rect x="1075.3" y="493.9" width="57.3" height="18.4" fill="#ff6e00"/>
<rect x="1075.3" y="517.9" width="57.3" height="18.4" fill="#ff0000"/>
</g>
<g class="lg" text-anchor="middle" style="font-size:12.5px">
<text x="1104" y="243" fill="#f0f0f0">n.a.*</text>
<text x="1104" y="267" fill="#fff">II</text>
<text x="1104" y="291" fill="#fff">III</text>
<text x="1104" y="315" fill="#fff">III-IV</text>
<text x="1104" y="339" fill="#fff">IV</text>
<text x="1104" y="363" fill="#000">IV-V</text>
<text x="1104" y="387" fill="#000">V</text>
<text x="1104" y="411" fill="#000">V-VI</text>
<text x="1104" y="435" fill="#000">VI</text>
<text x="1104" y="459" fill="#000">VI-VII</text>
<text x="1104" y="483" fill="#000">VII</text>
<text x="1104" y="507" fill="#000">VII-VIII</text>
<text x="1104" y="531" fill="#000">VIII</text>
</g>
<text x="1104.6" y="557.7" text-anchor="middle" style="font-family:'DejaVu Sans',sans-serif;font-size:12.5px" fill="#111">*non avvertito</text>
<line x1="1054.5" y1="568.5" x2="1153.5" y2="568.5" stroke="#000" stroke-width="1" stroke-dasharray="2.6 2"/>
<g class="lg" text-anchor="middle" fill="#000" style="letter-spacing:0.8px">
<text x="1103.8" y="583.8">Epicentro</text>
<text x="1103.8" y="599.6">strumentale</text>
</g>
<polygon points="1101.60,612.20 1103.89,619.14 1111.21,619.18 1105.31,623.51 1107.54,630.47 1101.60,626.20 1095.66,630.47 1097.89,623.51 1091.99,619.18 1099.31,619.14" fill="none" stroke="#000" stroke-width="1.1"/>
<!-- scale bar -->
<g>
<rect x="194.5" y="931.1" width="26.7" height="4.6" fill="#000"/>
<rect x="221.2" y="931.1" width="25.1" height="4.6" fill="#fff" stroke="#000" stroke-width="0.8"/>
<rect x="246.3" y="931.1" width="26.2" height="4.6" fill="#000"/>
<rect x="272.5" y="931.1" width="25.7" height="4.6" fill="#fff" stroke="#000" stroke-width="0.8"/>
<line x1="194.5" y1="930.6" x2="194.5" y2="940.8" stroke="#000" stroke-width="1"/>
<line x1="246.3" y1="930.6" x2="246.3" y2="940.8" stroke="#000" stroke-width="1"/>
<line x1="298.2" y1="930.6" x2="298.2" y2="940.8" stroke="#000" stroke-width="1"/>
<line x1="221.2" y1="935" x2="221.2" y2="938" stroke="#000" stroke-width="0.8"/>
<line x1="272.5" y1="935" x2="272.5" y2="938" stroke="#000" stroke-width="0.8"/>
<text x="246.5" y="915.4" text-anchor="middle" style="font-family:'Liberation Sans',sans-serif;font-size:29px">km</text>
<g style="font-family:'Liberation Sans',sans-serif;font-size:22.2px" text-anchor="middle">
<text x="194.8" y="964.5">0</text>
<text x="246.5" y="964.5">10</text>
<text x="298.2" y="964.5">20</text>
</g>
</g>

<!-- INGV logo -->
<defs>
<linearGradient id="gblue" x1="0" y1="0" x2="1" y2="1">
<stop offset="0" stop-color="#3cb6dc"/><stop offset="0.5" stop-color="#1582b0"/><stop offset="1" stop-color="#0a4470"/>
</linearGradient>
<clipPath id="globeclip"><circle cx="515" cy="512" r="452"/></clipPath>
<linearGradient id="megaph" x1="0" y1="0" x2="1" y2="0">
<stop offset="0" stop-color="#0a55a8"/><stop offset="1" stop-color="#1ea0e6"/>
</linearGradient>
</defs>
<g transform="translate(98 44) scale(0.066414)">
<g clip-path="url(#globeclip)">
<rect x="0" y="0" width="1054" height="1024" fill="url(#gblue)"/>
<polygon points="560,250 650,60 760,110 800,180 700,195 620,225" fill="#1e9a3c"/>
<polygon points="575,262 620,230 700,200 795,185 805,250 800,315 760,300 700,285 640,270" fill="#e3122a"/>
<polygon points="795,185 880,220 940,320 980,420 935,420 880,360 820,330 805,300 805,250" fill="#cbbcd0"/>
<polygon points="580,275 640,275 700,290 760,305 805,320 790,345 740,380 715,405 660,340" fill="#1e9a3c"/>
<polygon points="555,275 580,275 660,340 712,410 700,430 640,452 555,462" fill="#f2e20c"/>
<polygon points="720,410 790,345 830,340 880,370 930,425 905,480 860,540 812,600 790,560 760,480 730,430" fill="#f2e20c"/>
<polygon points="935,410 990,430 990,500 945,480" fill="#1e9a3c"/>
<polygon points="555,462 640,455 712,430 742,470 772,540 792,602 770,620 700,650 620,672 555,682" fill="#e3122a"/>
<polygon points="812,610 860,545 910,480 990,490 990,600 940,680 890,740 850,775 830,700" fill="#cbbcd0"/>
<polygon points="545,695 620,687 700,667 790,632 812,620 830,700 848,790 800,1000 540,1000" fill="#1e9a3c"/>
<polygon points="848,780 905,735 900,770 860,800" fill="#e3122a"/>
</g>
<g fill="none" stroke="#fff" stroke-width="15" opacity="0.92" clip-path="url(#globeclip)">
<path d="M554,255 C500,170 470,120 443,70"/>
<path d="M554,262 C520,300 480,348 401,417 C360,460 300,560 258,704 C240,770 220,830 205,980"/>
<path d="M554,255 C552,400 545,600 507,980"/>
<path d="M443,88 C390,110 330,160 321,205 C310,260 320,330 401,417 C440,440 500,455 549,459 C650,445 800,420 960,430"/>
<path d="M184,189 C250,180 330,180 427,205 C480,220 520,240 554,255"/>
<path d="M60,440 C120,380 240,325 321,295 C400,275 480,265 554,262"/>
<path d="M175,150 C150,280 150,350 157,385 C180,460 220,530 289,609 C330,640 420,680 538,699 C640,690 740,660 820,615"/>
<path d="M62,470 C70,560 120,700 226,799 C300,850 400,890 507,900 C620,890 740,850 850,780"/>
<path d="M554,255 C600,180 630,130 660,80"/>
<path d="M554,255 C640,220 720,190 800,185"/>
<path d="M554,262 C640,300 700,360 720,410 C760,480 790,540 812,610 C830,680 845,740 850,800"/>
<path d="M554,262 C680,290 820,330 900,370 C930,400 950,430 960,460"/>
<path d="M800,185 C805,240 805,290 800,320"/>
<path d="M905,480 C870,540 840,580 812,610"/>
</g>
</g>
<text x="170" y="74.5" textLength="88.8" lengthAdjust="spacingAndGlyphs" style="font-family:'DejaVu Sans Condensed','DejaVu Sans',sans-serif;font-size:12.4px;stroke:#444;stroke-width:0.3" fill="#444">ISTITUTO NAZIONALE</text>
<text x="170" y="89.4" textLength="135.2" lengthAdjust="spacingAndGlyphs" style="font-family:'DejaVu Sans Condensed','DejaVu Sans',sans-serif;font-size:12.4px;stroke:#444;stroke-width:0.3" fill="#444">DI GEOFISICA E VULCANOLOGIA</text>
<!-- haisentitoilterremoto logo -->
<g>
<circle cx="1095.4" cy="916" r="31.1" fill="#1b1b1b"/>
<circle cx="1095.4" cy="916" r="17.8" fill="none" stroke="#e2101e" stroke-width="6.3"/>
<circle cx="1096.9" cy="916" r="8.1" fill="#e2101e"/>
<path d="M1101,909.7 L1129.5,900.6 Q1132,900 1132,902.5 L1132,932 Q1132,934.5 1129.5,933.8 L1101,923.6 Z" fill="url(#megaph)"/>
<circle cx="1145.8" cy="916.4" r="10" fill="#e2101e"/>
<text x="0" y="0" transform="translate(1146.2 916.4) rotate(90)" text-anchor="middle" dy="5" style="font-family:'DejaVu Sans',sans-serif;font-weight:bold;font-size:14px" fill="#fff">?</text>
<path id="hsitpath" d="M1132.57,936.60 A42.5,42.5 0 1 1 1133.10,896.38" fill="none"/>
<text style="font-family:'DejaVu Sans Condensed','DejaVu Sans',sans-serif;font-size:17px" fill="#111"><textPath href="#hsitpath" textLength="225.1" lengthAdjust="spacingAndGlyphs"><tspan fill="#e2101e" font-weight="bold">www.</tspan><tspan font-weight="normal" fill="#333">hai</tspan><tspan font-weight="bold">sentito</tspan><tspan font-weight="normal" fill="#333">il</tspan><tspan font-weight="bold">terremoto</tspan><tspan fill="#e2101e" font-weight="bold">.it</tspan></textPath></text>
</g>

</svg>
</body></html>
